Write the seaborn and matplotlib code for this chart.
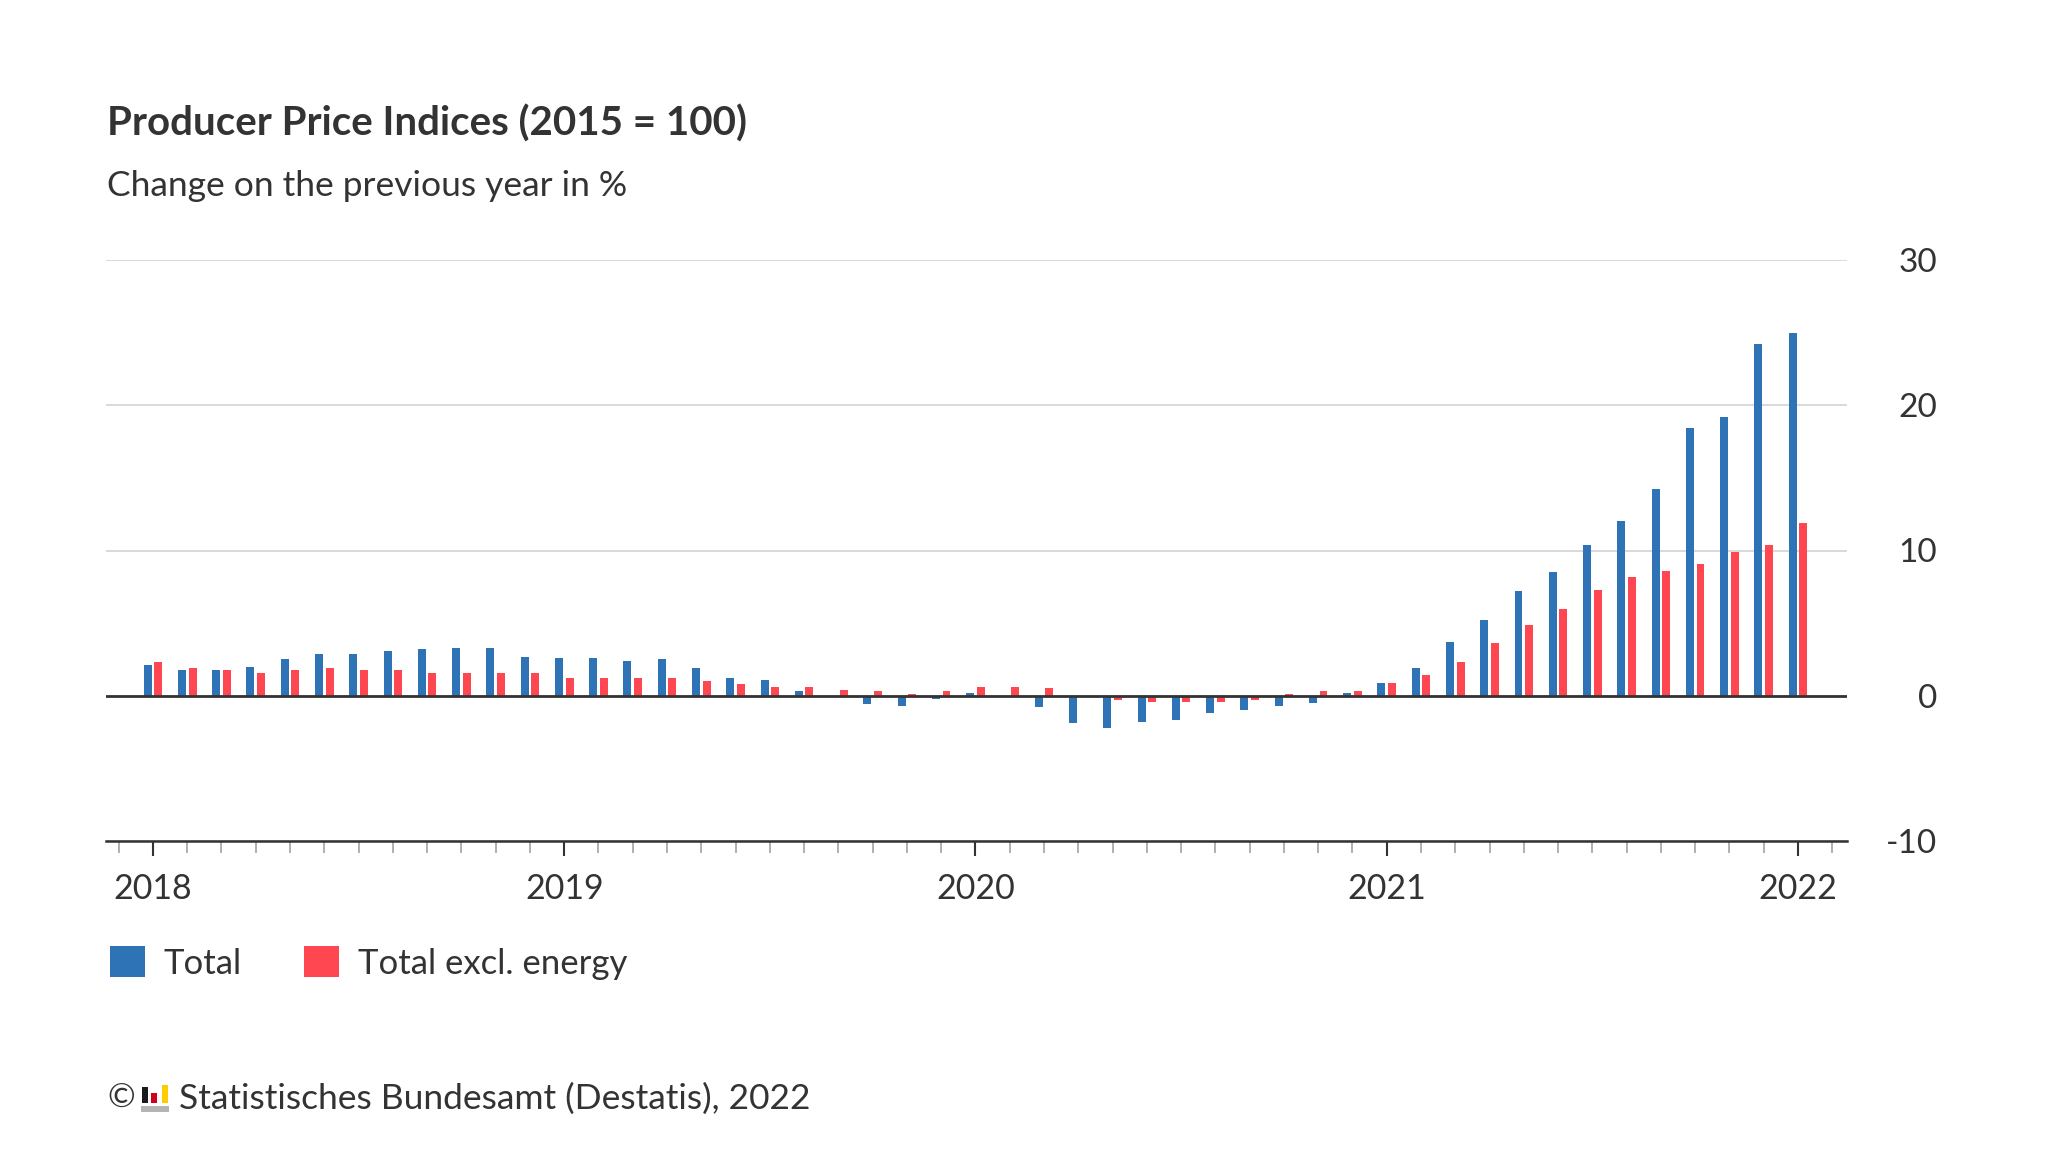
import matplotlib
matplotlib.use("Agg")
import matplotlib.pyplot as plt
import seaborn as sns
import pandas as pd
from matplotlib.patches import Rectangle

# ---------------- data ----------------
months = pd.date_range("2018-01-01", "2022-01-01", freq="MS").strftime("%Y-%m").tolist()

total = [
    2.1, 1.8, 1.8, 2.0, 2.5, 2.9, 2.9, 3.1, 3.2, 3.3, 3.3, 2.7,      # 2018
    2.6, 2.6, 2.4, 2.5, 1.9, 1.2, 1.1, 0.3, -0.1, -0.6, -0.7, -0.2,  # 2019
    0.2, -0.1, -0.8, -1.9, -2.2, -1.8, -1.7, -1.2, -1.0, -0.7, -0.5, 0.2,  # 2020
    0.9, 1.9, 3.7, 5.2, 7.2, 8.5, 10.4, 12.0, 14.2, 18.4, 19.2, 24.2,  # 2021
    25.0,                                                            # 2022
]
excl_energy = [
    2.3, 1.9, 1.8, 1.6, 1.8, 1.9, 1.8, 1.8, 1.6, 1.6, 1.6, 1.6,      # 2018
    1.2, 1.2, 1.2, 1.2, 1.0, 0.8, 0.6, 0.6, 0.4, 0.3, 0.1, 0.3,      # 2019
    0.6, 0.6, 0.5, 0.0, -0.3, -0.4, -0.4, -0.4, -0.3, 0.1, 0.3, 0.3,  # 2020
    0.9, 1.4, 2.3, 3.6, 4.9, 6.0, 7.3, 8.2, 8.6, 9.1, 9.9, 10.4,     # 2021
    11.9,                                                            # 2022
]
series_names = ["Total", "Total excl. energy"]
colors = ["#2E73B5", "#FF4752"]
year_labels = ["2018", "2019", "2020", "2021", "2022"]
y_ticks = [-10, 0, 10, 20, 30]
y_tick_labels = ["-10", "0", "10", "20", "30"]

title = "Producer Price Indices (2015 = 100)"
subtitle = "Change on the previous year in %"
source = "Statistisches Bundesamt (Destatis), 2022"

df = pd.DataFrame({
    "month": months * 2,
    "value": total + excl_energy,
    "series": [series_names[0]] * len(months) + [series_names[1]] * len(months),
})

# ---------------- style ----------------
sns.set_theme(style="white")
plt.rcParams["font.family"] = ["Lato", "DejaVu Sans"]
TXT = "#333333"

W, H = 2048, 1152
fig = plt.figure(figsize=(W / 100, H / 100), dpi=100)
fig.patch.set_facecolor("white")

def fx(px):
    return px / W

def fy(py):
    return 1 - py / H

ax_left, ax_right, ax_top, ax_bottom = 106, 1847, 260, 841
ax = fig.add_axes([fx(ax_left), fy(ax_bottom), fx(ax_right - ax_left), (ax_bottom - ax_top) / H])

sns.barplot(
    data=df, x="month", y="value", hue="series",
    order=months, hue_order=series_names, palette=colors,
    width=0.62, gap=0.25, saturation=1, linewidth=0,
    legend=False, ax=ax, zorder=2,
)

ax.set_xlim(-1.37, 49.43)
ax.set_ylim(-10, 30)
ax.set_xlabel("")
ax.set_ylabel("")

# grid
ax.set_axisbelow(True)
ax.set_yticks(y_ticks, labels=y_tick_labels)
ax.yaxis.grid(True, color="#d9d9d9", linewidth=1.4)
ax.xaxis.grid(False)
ax.axhline(0, color=TXT, linewidth=2.0, zorder=4)

for side in ["top", "left", "right"]:
    ax.spines[side].set_visible(False)
ax.spines["bottom"].set_color(TXT)
ax.spines["bottom"].set_linewidth(1.8)
ax.spines["bottom"].set_zorder(5)

# x ticks
major_pos = [months.index(y + "-01") for y in year_labels]
ax.set_xticks(major_pos, labels=year_labels)
ax.set_xticks([i for i in range(-1, 50) if i not in major_pos], minor=True)
ax.tick_params(axis="x", which="both", bottom=True, direction="out")
ax.tick_params(axis="x", which="major", length=11, width=1.5, color=TXT,
               labelsize=24.5, labelcolor=TXT, pad=12)
ax.tick_params(axis="x", which="minor", length=8.5, width=1.1, color="#9a9a9a")

# y ticks on right, right-aligned
ax.yaxis.tick_right()
ax.tick_params(axis="y", which="both", length=0, pad=65, labelsize=24,
               labelcolor=TXT, left=False, right=False, labelleft=False, labelright=True)
for t in ax.yaxis.get_major_ticks():
    t.label2.set_horizontalalignment("right")

# ---------------- texts ----------------
fig.text(fx(107), fy(124), title, fontsize=29, fontweight="bold", color=TXT, va="center", ha="left")
fig.text(fx(107), fy(186), subtitle, fontsize=25.5, color=TXT, va="center", ha="left")

handles = [Rectangle((0, 0), 1, 1, facecolor=c, edgecolor="none") for c in colors]
fig.legend(handles, series_names, loc="center left", bbox_to_anchor=(fx(110), fy(963)),
           frameon=False, fontsize=25, ncol=2, handlelength=1.0, handleheight=1.0,
           handletextpad=0.55, columnspacing=1.8, borderpad=0, borderaxespad=0,
           labelcolor=TXT)

# footer
fig.text(fx(107), fy(1099), "©", fontsize=24, color=TXT, va="center", ha="left")
logo = [
    (142, 1087, 6, 16, "#1a1a1a"),
    (151, 1093, 6, 10, "#d0021b"),
    (162, 1085, 6, 18, "#ffcc00"),
    (141, 1106, 28, 6, "#b4b4b4"),
]
for x0, y0, w, h, c in logo:
    fig.add_artist(Rectangle((fx(x0), fy(y0 + h)), w / W, h / H,
                             transform=fig.transFigure, facecolor=c, edgecolor="none"))
fig.text(fx(179), fy(1099), source, fontsize=25.5, color=TXT, va="center", ha="left")

fig.savefig("out.png", dpi=100, facecolor="white")
